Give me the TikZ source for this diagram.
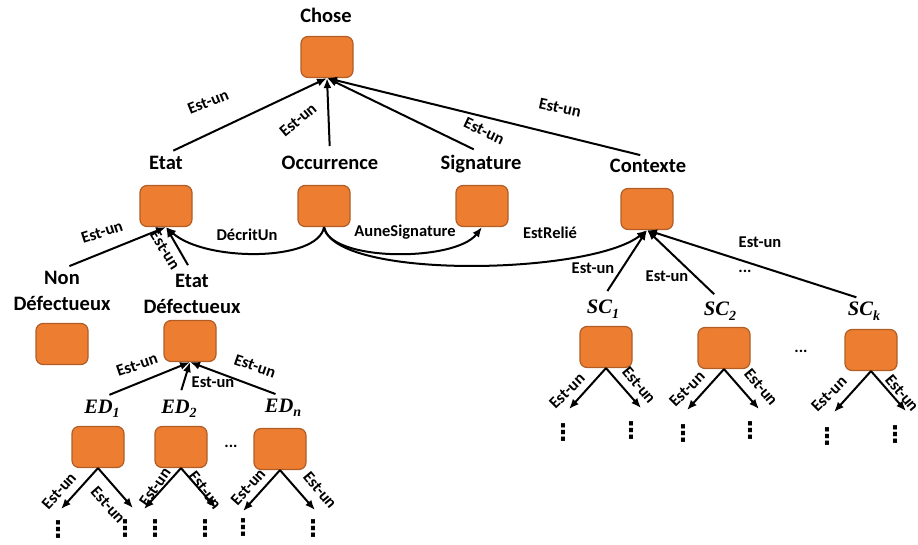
\documentclass[tikz,border=0pt]{standalone}
\usepackage{fontspec}
\setmainfont{Carlito}
\newfontfamily\serifit{Liberation Serif}
\newfontfamily\symfont{DejaVu Sans}
\usetikzlibrary{arrows.meta}
\definecolor{boxfill}{HTML}{ED7D31}
\definecolor{boxline}{HTML}{B05E25}
\newcommand{\sub}[2]{{\serifit\bfseries\itshape #1\raisebox{-4.5pt}{\fontsize{14}{14}\selectfont #2}}}

\begin{document}
\begin{tikzpicture}[x=1pt,y=-1pt,
 box/.style={draw=boxline,fill=boxfill,line width=1.2pt,rounded corners=7pt,
 minimum width=52pt,minimum height=41pt,inner sep=0pt},
 lbl/.style={font=\fontsize{20.5}{26}\selectfont\bfseries,inner sep=2pt,align=center},
 rel/.style={font=\fontsize{16.5}{18}\selectfont\bfseries,inner sep=1pt},
 isa/.style={-{Latex[length=10pt,width=8pt]},line width=2pt,shorten <=8pt},
 link/.style={-{Latex[length=10pt,width=8pt]},line width=2pt},
 vdot/.style={font=\fontsize{23}{23}\selectfont\symfont\bfseries,inner sep=0pt}]
\useasboundingbox (0,0) rectangle (918,545);
% boxes
\foreach \n/\x/\y in {chose/327/57,etat/166/206,occ/324/206,sig/482/206,ctx/647/209,
 nondef/62/344,etatdef/190/341,ed1/98/447,ed2/181/447,edn/280/449,
 sc1/606/347,sc2/724/348,sck/871/350}
 \node[box] (\n) at (\x,\y) {};
% concept names
\node[lbl] (tchose) at (326,15) {Chose};
\node[lbl] (tetat) at (166,163) {Etat};
\node[lbl] (tocc) at (330,163) {Occurrence};
\node[lbl] (tsig) at (481,164) {Signature};
\node[lbl] (tctx) at (648,166) {Contexte};
\node[lbl] (tnondef) at (62,291) {Non\\Défectueux};
\node[lbl] (tetatdef) at (192,294) {Etat\\Défectueux};
\node[lbl] (ted1) at (102,409) {\sub{ED}{1}};
\node[lbl] (ted2) at (179,409) {\sub{ED}{2}};
\node[lbl] (tedn) at (283,408) {\sub{ED}{n}};
\node[lbl] (tsc1) at (603,309) {\sub{SC}{1}};
\node[lbl] (tsc2) at (720,311) {\sub{SC}{2}};
\node[lbl] (tsck) at (864,311) {\sub{SC}{k}};
% is-a links
\foreach \m in {tetat,tocc,tsig,tctx}
 \draw[isa] (\m.north) -- (chose.south);
\draw[isa] (tnondef.north) -- (etat.south);
\draw[isa] (tetatdef.north) -- (etat.south);
\foreach \m in {ted1,ted2,tedn}
 \draw[isa] (\m.north) -- (etatdef.south);
\foreach \m in {tsc1,tsc2,tsck}
 \draw[isa] (\m.north) -- (ctx.south);
% relations of Occurrence
\draw[link] (occ.south) .. controls (318,262) and (205,262) .. (etat.south);
\draw[link] (occ.south) .. controls (330,262) and (455,262) .. (sig.south);
\draw[link] (occ.south) .. controls (335,280) and (590,275) .. (ctx.south);
% sub-branches
\foreach \n in {ed1,ed2,edn,sc1,sc2,sck} {
 \path (\n.south) ++(-37,41) coordinate (\n-l) ++(72,-1) coordinate (\n-r);
 \draw[link] (\n.south) -- (\n-l);
 \draw[link] (\n.south) -- (\n-r);
}
% edge labels
\node[rel,rotate=22] (r1) at (208,102) {Est-un};
\node[rel,rotate=40] (r2) at (298,120) {Est-un};
\node[rel,rotate=-25] (r3) at (484,131) {Est-un};
\node[rel,rotate=-12] (r4) at (560,108) {Est-un};
\node[rel,rotate=18] (r5) at (102,232) {Est-un};
\node[rel,rotate=-58] (r6) at (165,250) {Est-un};
\node[rel] (r7) at (247,235) {DécritUn};
\node[rel] (r8) at (405,232) {AuneSignature};
\node[rel] (r9) at (550,233) {EstRelié};
\node[rel] (r10) at (593,268) {Est-un};
\node[rel] (r11) at (667,276) {Est-un};
\node[rel] (r12) at (760,242) {Est-un};
\node[rel,rotate=19] (r13) at (137,365) {Est-un};
\node[rel] (r14) at (213,382) {Est-un};
\node[rel,rotate=-19] (r15) at (255,366) {Est-un};
\foreach \x/\y/\a [count=\i] in {59/491/48,108/505/-48,155/487/55,205/490/-52,
 248/487/48,320/490/-50,567/391/45,639/385/-50,687/389/45,761/387/-50,
 829/394/45,902/393/-50}
 \node[rel,rotate=\a] (s\i) at (\x,\y) {Est-un};
% dots
\foreach \x/\y [count=\i] in {58/530,125/529,155/529,205/529,243/528,313/529,
 563/433,631/431,683/434,750/431,827/437,895/435}
 \node[vdot] (v\i) at (\x,\y) {⋮};
\node[rel] (h1) at (231,446) {...};
\node[rel] (h2) at (801,351) {...};
\node[rel] (h3) at (745,271) {...};
\end{tikzpicture}
\end{document}
